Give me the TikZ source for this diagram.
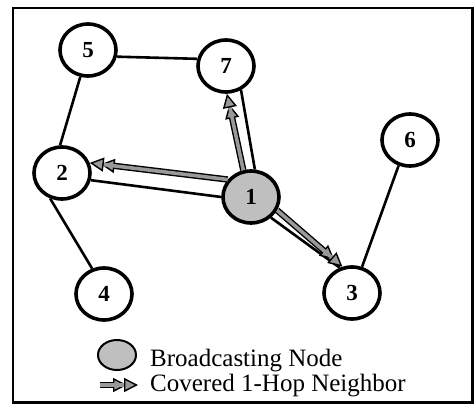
\documentclass[tikz,border=0pt]{standalone}
\usepackage{fontspec}
\setmainfont{Liberation Serif}
\usetikzlibrary{shapes.geometric,arrows.meta}
\tikzset{
  nd/.style={ellipse, draw=black, line width=3.6pt, fill=white, minimum width=56pt, minimum height=52pt, inner sep=0pt, font=\fontsize{23}{23}\selectfont\bfseries},
  bcast/.style={nd, fill=gray!50},
  edge/.style={draw=black, line width=2.6pt},
  cov/.style={draw=gray!80, line width=3.6pt,
    preaction={draw=black, line width=6.4pt, shorten >=11pt},
    -{Triangle[length=14pt, width=14pt, color=black, fill=gray!80, line width=1.4pt]}},
  legtext/.style={anchor=base west, inner sep=0pt, font=\fontsize{25}{25}\selectfont}
}
\begin{document}
\begin{tikzpicture}[x=1pt,y=-1pt]
\useasboundingbox (0,0) rectangle (474,404);
\draw[line width=2.6pt] (13,8) rectangle (472.5,402.5);
% nodes
\node[nd] (n5) at (88,50) {5};
\node[nd] (n7) at (226,66) {7};
\node[nd] (n6) at (410,140) {6};
\node[nd] (n2) at (62,173) {2};
\node[bcast] (n1) at (251,197) {1};
\node[nd] (n4) at (104,294) {4};
\node[nd] (n3) at (352,293) {3};
% edges
\draw[edge] (n5.-13) -- (n7.166);
\draw[edge] (n5.-106) -- (n2.94);
\draw[edge] (n2.-115) -- (n4.115);
\draw[edge] (n2.-14) -- (n1.180);
\draw[edge] (n1.82) -- (n7.-58);
\draw[edge] (n1.-46) -- (n3.116);
\draw[edge] (n6.-114) -- (n3.69);
% covered arrows
\draw[cov] (n1.106) -- (n7.-88);
\draw[cov] (n1.143) -- (n2.20);
\draw[cov] (n1.-27) -- (n3.110);
% legend
\node[ellipse, draw=black, line width=2pt, fill=gray!50, minimum width=38pt, minimum height=30pt, inner sep=0pt] (lb) at (117,355) {};
\node[legtext] (lt1) at (150,366) {Broadcasting Node};
\coordinate (la1) at (100,385);
\coordinate (la2) at (138,385);
\draw[cov] (la1) -- (la2);
\node[legtext] (lt2) at (150,391) {Covered 1-Hop Neighbor};
\end{tikzpicture}
\end{document}
